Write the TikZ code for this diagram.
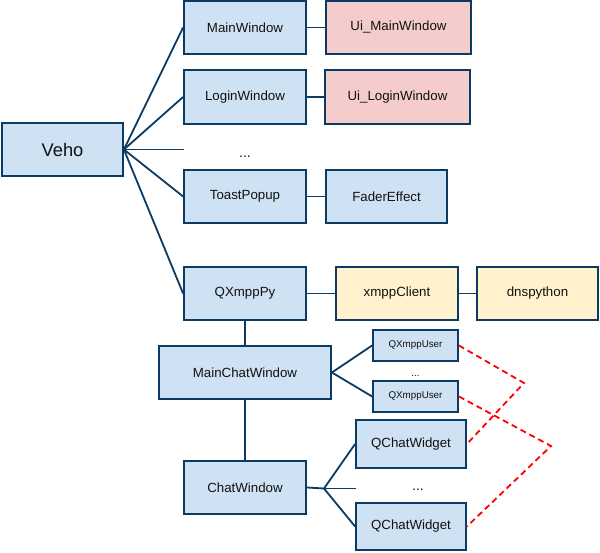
\documentclass[tikz,border=0pt]{standalone}
\usepackage{fontspec}
\setmainfont{Liberation Sans}
\definecolor{bdr}{HTML}{0B3A63}
\definecolor{bfill}{HTML}{CFE2F3}
\definecolor{pfill}{HTML}{F4CCCC}
\definecolor{yfill}{HTML}{FFF2CC}
\definecolor{ink}{HTML}{111111}
\tikzset{
  box/.style={draw=bdr, fill=bfill, line width=1.8pt, inner sep=0pt, text=ink, font=\fontsize{13.3}{15}\selectfont},
  pinkbox/.style={box, fill=pfill},
  yellowbox/.style={box, fill=yfill},
  smallbox/.style={box, font=\fontsize{9.8}{11}\selectfont},
  link/.style={draw=bdr, line width=1.8pt},
  rel/.style={draw=red, line width=1.8pt, dash pattern=on 6pt off 4pt},
  dotstext/.style={text=ink, inner sep=0pt, anchor=base}
}
\begin{document}
\begin{tikzpicture}[x=1pt,y=-1pt]
\useasboundingbox (0,0) rectangle (600,553);
\node[box, minimum width=121pt, minimum height=53pt, font=\fontsize{18.3}{20}\selectfont] (veho) at (62.5,149.5) {Veho};
\node[box, minimum width=122pt, minimum height=53pt] (mainwin) at (245,27.5) {MainWindow};
\node[pinkbox, minimum width=145pt, minimum height=53pt] (uimain) at (398.5,27.5) {Ui\_MainWindow};
\node[box, minimum width=122pt, minimum height=54pt] (loginwin) at (245,97) {LoginWindow};
\node[pinkbox, minimum width=145pt, minimum height=54pt] (uilogin) at (397.5,97) {Ui\_LoginWindow};
\node[dotstext, font=\fontsize{14}{15}\selectfont] (dots1) at (245,157.5) {...};
\coordinate (dotsend1) at (184,149.5);
\node[box, minimum width=122pt, minimum height=53pt] (toast) at (245,196.5) {ToastPopup};
\node[box, minimum width=121pt, minimum height=53pt] (fader) at (386.5,196.5) {FaderEffect};
\node[box, minimum width=122pt, minimum height=53pt] (qxmpppy) at (245,293.5) {QXmppPy};
\node[yellowbox, minimum width=122pt, minimum height=53pt] (xmppclient) at (397,293.5) {xmppClient};
\node[yellowbox, minimum width=121pt, minimum height=53pt] (dnspython) at (537.5,293.5) {dnspython};
\node[box, minimum width=172pt, minimum height=53pt] (mainchat) at (245,372.5) {MainChatWindow};
\node[smallbox, minimum width=85pt, minimum height=31pt] (user1) at (415.5,345.5) {QXmppUser};
\node[dotstext, font=\fontsize{9.8}{11}\selectfont] (dots2) at (415.5,376.5) {...};
\node[smallbox, minimum width=85pt, minimum height=31pt] (user2) at (415.5,396.5) {QXmppUser};
\node[box, minimum width=110pt, minimum height=48pt] (qcw1) at (411,444) {QChatWidget};
\node[dotstext, font=\fontsize{14}{15}\selectfont] (dots3) at (418,490.5) {...};
\node[box, minimum width=110pt, minimum height=47pt] (qcw2) at (411,526.5) {QChatWidget};
\node[box, minimum width=122pt, minimum height=53pt] (chatwin) at (245,487.5) {ChatWindow};
\coordinate (fork) at (324,488.5);
\coordinate (dotsend3) at (356,488.5);
\coordinate (c1) at (524,383);
\coordinate (c2) at (551,446);
% links
\draw[link] (veho.east) -- (mainwin.west);
\draw[link] (veho.east) -- (loginwin.west);
\draw[link] (veho.east) -- (dotsend1);
\draw[link] (veho.east) -- (toast.west);
\draw[link] (veho.east) -- (qxmpppy.west);
\draw[link] (mainwin) -- (uimain);
\draw[link] (loginwin) -- (uilogin);
\draw[link] (toast) -- (fader);
\draw[link] (qxmpppy) -- (xmppclient);
\draw[link] (xmppclient) -- (dnspython);
\draw[link] (qxmpppy) -- (mainchat);
\draw[link] (mainchat) -- (chatwin);
\draw[link] (mainchat.east) -- (user1.west);
\draw[link] (mainchat.east) -- (user2.west);
\draw[link] (chatwin.east) -- (fork);
\draw[link] (fork) -- (qcw1.west);
\draw[link] (fork) -- (dotsend3);
\draw[link] (fork) -- (qcw2.west);
\draw[rel] (user1.east) -- (c1) -- (qcw1.east);
\draw[rel] (user2.east) -- (c2) -- (qcw2.east);
\end{tikzpicture}
\end{document}
